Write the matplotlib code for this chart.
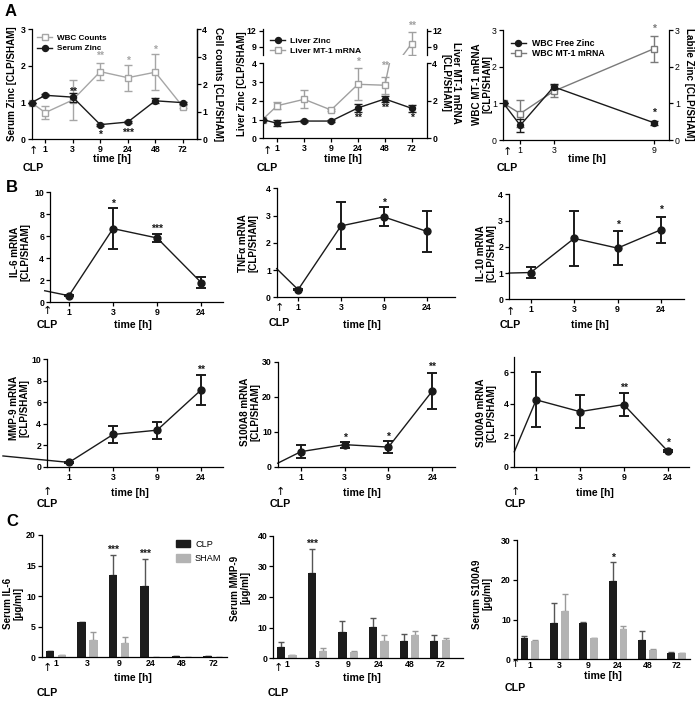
import matplotlib
matplotlib.use('Agg')
import matplotlib.pyplot as plt
from matplotlib.lines import Line2D
from matplotlib.patches import Patch

plt.rcParams['font.family'] = ['Liberation Sans', 'DejaVu Sans']
plt.rcParams['font.weight'] = 'bold'
plt.rcParams['axes.linewidth'] = 0.9

# ---------------- data ----------------
# Panel A1 (serum zinc / WBC counts)
a1_times = ['1', '3', '9', '24', '48', '72']
a1_zinc = [1.2, 1.15, 0.4, 0.47, 1.05, 1.0]
a1_zinc_err = [0.03, 0.12, 0.03, 0.03, 0.07, 0.03]
a1_wbc = [0.97, 1.43, 2.46, 2.24, 2.44, 1.19]
a1_wbc_err = [0.23, 0.72, 0.32, 0.47, 0.65, 0.05]
a1_start = 1.0
a1_wbc_start = 1.33

# Panel A2 (liver zinc / liver MT-1 mRNA)
a2_times = ['1', '3', '9', '24', '48', '72']
a2_zinc = [0.8, 0.92, 0.92, 1.62, 2.1, 1.6]
a2_zinc_err = [0.15, 0.03, 0.03, 0.22, 0.18, 0.18]
a2_mt1 = [1.74, 2.08, 1.51, 2.88, 2.83, 9.6]
a2_mt1_err = [0.2, 0.47, 0.05, 0.85, 0.46, 2.1]
a2_start = 1.0

# Panel A3 (WBC free zinc / WBC MT-1 mRNA), linear time axis
a3_times = [1, 3, 9]
a3_free = [0.4, 1.45, 0.47]
a3_free_err = [0.18, 0.07, 0.06]
a3_mt1 = [0.72, 1.33, 2.49]
a3_mt1_err = [0.36, 0.17, 0.35]
a3_start = 1.0

# Panel B (mRNA ratios)
b_times = ['1', '3', '9', '24']
b_il6 = [0.6, 6.7, 5.85, 1.8]
b_il6_err = [0.05, 1.85, 0.35, 0.5]
b_tnf = [0.28, 2.62, 2.95, 2.42]
b_tnf_err = [0.03, 0.86, 0.35, 0.75]
b_il10 = [1.02, 2.32, 1.95, 2.65]
b_il10_err = [0.22, 1.05, 0.65, 0.5]
b_mmp9 = [0.4, 3.0, 3.4, 7.15]
b_mmp9_err = [0.05, 0.82, 0.78, 1.42]
b_s100a8 = [4.3, 6.3, 5.6, 21.6]
b_s100a8_err = [1.9, 0.9, 1.7, 5.2]
b_s100a9 = [4.25, 3.5, 3.95, 1.0]
b_s100a9_err = [1.75, 1.03, 0.72, 0.05]
b_start = [1.05, 1.05, 1.0, 1.0, 1.0, 0.95]

# Panel C (serum levels, CLP vs SHAM)
c_times = ['1', '3', '9', '24', '48', '72']
c_il6_clp = [0.95, 5.7, 13.4, 11.6, 0.2, 0.15]
c_il6_clp_err = [0.05, 0.1, 3.4, 4.5, 0.05, 0.05]
c_il6_sham = [0.3, 2.9, 2.3, 0.0, 0.0, 0.0]
c_il6_sham_err = [0.05, 1.2, 1.0, 0.0, 0.0, 0.0]
c_mmp9_clp = [3.7, 27.8, 8.5, 10.3, 5.7, 5.7]
c_mmp9_clp_err = [1.6, 7.7, 3.8, 3.0, 2.3, 1.9]
c_mmp9_sham = [1.0, 2.3, 2.1, 5.7, 7.6, 6.0]
c_mmp9_sham_err = [0.1, 0.9, 0.2, 1.9, 1.2, 0.5]
c_s100_clp = [5.4, 9.1, 9.2, 19.7, 4.9, 1.6]
c_s100_clp_err = [0.5, 5.0, 0.2, 4.7, 2.1, 0.2]
c_s100_sham = [4.7, 12.2, 5.3, 7.7, 2.3, 1.5]
c_s100_sham_err = [0.2, 4.1, 0.1, 0.7, 0.3, 0.1]

# ---------------- helpers ----------------
W, H = 696, 703
fig = plt.figure(figsize=(W / 100, H / 100), dpi=100)

BLACK = '#1a1a1a'
GRAY_A1 = '#a6a6a6'
GRAY_A2 = '#a0a0a0'
GRAY_A3 = '#7a7a7a'
TICK_FS = 6.3
LAB_FS = 7.1


def box(l, t, r, b):
    return fig.add_axes([l / W, 1 - b / H, (r - l) / W, (b - t) / H])


def ftext(x, y, s, **kw):
    kw.setdefault('ha', 'center')
    kw.setdefault('va', 'center')
    fig.text(x / W, 1 - y / H, s, **kw)


def style(ax, right=False):
    ax.spines['top'].set_visible(False)
    ax.spines['right'].set_visible(right)
    ax.tick_params(direction='out', length=3, width=0.9, labelsize=TICK_FS, pad=1.2)
    for lbl in ax.get_xticklabels() + ax.get_yticklabels():
        lbl.set_fontweight('bold')


def ylab(x, y, s, rot=90, fs=LAB_FS):
    ftext(x, y, s, rotation=rot, fontsize=fs, fontweight='bold', linespacing=1.1)


def xlab(x, y, s='time [h]'):
    ftext(x, y, s, fontsize=LAB_FS + 0.5, fontweight='bold')


def clp(x, ya, yc):
    ftext(x, ya, '\u2191', fontsize=8, fontweight='normal', family=['DejaVu Sans'])
    ftext(x, yc, 'CLP', fontsize=LAB_FS + 0.6, fontweight='bold')


def star(ax, x, y, s, color=BLACK, fs=7.5):
    ax.text(x, y, s, ha='center', va='center', fontsize=fs, color=color,
            fontweight='bold', clip_on=False)


# ================= Panel A1 =================
ax = box(31.5, 29.3, 196.5, 139.3)
pos = list(range(1, 7))
ax2 = ax.twinx()
ax2.errorbar([0.5] + pos, [a1_wbc_start] + a1_wbc, yerr=[0] + a1_wbc_err, color=GRAY_A1,
             marker='s', ms=5, mfc='white', mec=GRAY_A1, mew=1.0, lw=1.0,
             capsize=3, elinewidth=1.0, capthick=1.0, clip_on=False, zorder=2)
ax2.set_ylim(0, 4)
ax2.set_yticks([0, 1, 2, 3, 4])
ax.set_zorder(ax2.get_zorder() + 1)
ax.patch.set_visible(False)
ax.errorbar([0.5] + pos, [a1_start] + a1_zinc, yerr=[0] + a1_zinc_err, color=BLACK,
            marker='o', ms=4.3, lw=1.0, capsize=3, elinewidth=1.0, capthick=1.0,
            clip_on=False, zorder=3)
ax.set_xlim(0.5, 6.5)
ax.set_ylim(0, 3)
ax.set_yticks([0, 1, 2, 3])
ax.set_xticks(pos)
ax.set_xticklabels(a1_times)
style(ax, right=True)
style(ax2, right=True)
ax2.spines['left'].set_visible(False)
ax2.spines['bottom'].set_visible(False)
star(ax, 2, 1.3, '**')
star(ax, 3, 0.13, '*')
star(ax, 4, 0.18, '***')
star(ax2, 3, 3.02, '**', GRAY_A1)
star(ax2, 4, 2.85, '*', GRAY_A1)
star(ax2, 5, 3.25, '*', GRAY_A1)
h1 = Line2D([], [], color=GRAY_A1, marker='s', ms=5, mfc='white', mec=GRAY_A1, lw=1.0)
h2 = Line2D([], [], color=BLACK, marker='o', ms=4.3, lw=1.0)
leg = ax.legend([h1, h2], ['WBC Counts', 'Serum Zinc'], loc='upper left',
                bbox_to_anchor=(-0.01, 1.02), frameon=False, fontsize=5.9,
                handlelength=1.8, handletextpad=0.6, labelspacing=0.3)
for t in leg.get_texts():
    t.set_fontweight('bold')
ylab(12, 84, 'Serum Zinc [CLP/SHAM]')
ylab(218, 84, 'Cell counts [CLP/SHAM]', rot=270)
xlab(112, 159)
clp(33, 151, 168)
ftext(11, 12, 'A', fontsize=12, fontweight='bold')

# ================= Panel A2 (broken axis) =================
lo = box(262.5, 63.3, 426.5, 138.3)
up = box(262.5, 28.6, 426.5, 54.7)
xs = [0.45] + pos
for a in (lo, up):
    a.errorbar(xs, [a2_start] + a2_mt1, yerr=[0] + a2_mt1_err, color=GRAY_A2,
               marker='s', ms=5, mfc='white', mec=GRAY_A2, mew=1.0, lw=1.0,
               capsize=3, elinewidth=1.0, capthick=1.0, zorder=2)
    a.errorbar(xs, [a2_start] + a2_zinc, yerr=[0] + a2_zinc_err, color=BLACK,
               marker='o', ms=4.3, lw=1.0, capsize=3, elinewidth=1.0, capthick=1.0,
               zorder=3)
    a.set_xlim(0.45, 6.55)
lo.set_ylim(0, 4)
lo.set_yticks([0, 1, 2, 3, 4])
lo.set_xticks(pos)
lo.set_xticklabels(a2_times)
up.set_ylim(7.5, 12.4)
up.set_yticks([9, 12])
up.set_xticks([])
style(lo, right=True)
style(up, right=True)
up.spines['bottom'].set_visible(False)
lo.spines['top'].set_visible(False)
for a, tks in ((lo, [0, 2, 4]), (up, [9, 12])):
    r = a.twinx()
    r.set_ylim(a.get_ylim())
    r.set_yticks(tks)
    style(r, right=True)
    r.spines['left'].set_visible(False)
    r.spines['bottom'].set_visible(False)
    r.spines['top'].set_visible(False)
    a.spines['right'].set_visible(False)
star(lo, 4, 1.07, '**')
star(lo, 5, 1.6, '**')
star(lo, 6, 1.07, '*')
star(lo, 4, 4.1, '*', GRAY_A2)
star(lo, 5, 3.85, '**', GRAY_A2)
star(up, 6, 13.0, '**', GRAY_A2)
h1 = Line2D([], [], color=BLACK, marker='o', ms=4.3, lw=1.0)
h2 = Line2D([], [], color=GRAY_A2, marker='s', ms=5, mfc='white', mec=GRAY_A2, lw=1.0)
leg = up.legend([h1, h2], ['Liver Zinc', 'Liver MT-1 mRNA'], loc='upper left',
                bbox_to_anchor=(0.0, 0.97), frameon=False, fontsize=6.1,
                handlelength=1.8, handletextpad=0.6, labelspacing=0.25)
for t in leg.get_texts():
    t.set_fontweight('bold')
ylab(242, 84, 'Liver Zinc [CLP/SHAM]', fs=6.9)
ylab(451, 83, 'Liver MT-1 mRNA\n[CLP/SHAM]', rot=270)
xlab(343, 159)
clp(267, 151, 168)

# ================= Panel A3 =================
ax = box(502.7, 30, 669, 140)
ax.errorbar([0] + a3_times, [a3_start] + a3_mt1, yerr=[0] + a3_mt1_err, color=GRAY_A3,
            marker='s', ms=5, mfc='white', mec=GRAY_A3, mew=1.0, lw=1.0,
            capsize=3, elinewidth=1.0, capthick=1.0, zorder=2)
ax.errorbar([0] + a3_times, [a3_start] + a3_free, yerr=[0] + a3_free_err, color=BLACK,
            marker='o', ms=4.3, lw=1.0, capsize=3, elinewidth=1.0, capthick=1.0,
            zorder=3)
ax.set_xlim(-0.05, 9.9)
ax.set_ylim(0, 3)
ax.set_yticks([0, 1, 2, 3])
ax.set_xticks(a3_times)
style(ax, right=False)
for lbl in ax.get_xticklabels() + ax.get_yticklabels():
    lbl.set_fontweight('normal')
r = ax.twinx()
r.set_ylim(0, 3)
r.set_yticks([0, 1, 2, 3])
style(r, right=True)
for lbl in r.get_yticklabels():
    lbl.set_fontweight('normal')
r.spines['left'].set_visible(False)
r.spines['bottom'].set_visible(False)
star(ax, 9, 3.03, '*', GRAY_A3)
star(ax, 9, 0.73, '*')
h1 = Line2D([], [], color=BLACK, marker='o', ms=4.3, lw=1.0)
h2 = Line2D([], [], color=GRAY_A3, marker='s', ms=5, mfc='white', mec=GRAY_A3, lw=1.0)
ax.legend([h1, h2], ['WBC Free Zinc', 'WBC MT-1 mRNA'], loc='upper left',
          bbox_to_anchor=(0.0, 0.99), frameon=False, fontsize=6.3,
          handlelength=1.8, handletextpad=0.6, labelspacing=0.15)
ylab(482, 84, 'WBC MT-1 mRNA\n[CLP/SHAM]')
ylab(689, 84, 'Labile Zinc [CLP/SHAM]', rot=270)
xlab(587, 159)
clp(507, 152, 168)

# ================= Panel B =================
b_panels = [
    ((50, 192.3, 222.7, 302.3), (0.57, 4.49), (0, 10), [0, 2, 4, 6, 8, 10], b_il6, b_il6_err,
     'IL-6 mRNA\n[CLP/SHAM]', (20, 252), (133, 325), (47, 311, 325),
     [(2, 8.95, '*'), (3, 6.7, '***')], 0.45),
    ((276.7, 188.3, 455, 297.3), (0.5, 4.66), (0, 4), [0, 1, 2, 3, 4], b_tnf, b_tnf_err,
     'TNF\u03b1 mRNA\n[CLP/SHAM]', (248, 243), (362, 325), (279, 308, 323),
     [(3, 3.48, '*')], 0.5),
    ((509, 194.3, 684, 299.3), (0.5, 4.53), (0, 4), [0, 1, 2, 3, 4], b_il10, b_il10_err,
     'IL-10 mRNA\n[CLP/SHAM]', (486, 253), (590, 325), (510, 312, 325),
     [(3, 2.85, '*'), (4, 3.4, '*')], 0.5),
    ((47, 359.3, 222.7, 466.7), (0.5, 4.49), (0, 10), [0, 2, 4, 6, 8, 10], b_mmp9, b_mmp9_err,
     'MMP-9 mRNA\n[CLP/SHAM]', (19, 408), (130, 493), (47, 492, 504),
     [(4, 9.0, '**')], -0.5),
    ((277.7, 361.7, 455, 466.7), (0.47, 4.52), (0, 30), [0, 10, 20, 30], b_s100a8, b_s100a8_err,
     'S100A8 mRNA\n[CLP/SHAM]', (250, 412), (362, 493), (280, 492, 504),
     [(2, 8.3, '*'), (3, 8.6, '*'), (4, 28.5, '**')], 0.47),
    ((514.3, 356.6, 689, 466.7), (0.5, 4.49), (0, 7), [0, 2, 4, 6], b_s100a9, b_s100a9_err,
     'S100A9 mRNA\n[CLP/SHAM]', (486, 413), (595, 493), (515, 492, 504),
     [(3, 5.0, '**'), (4, 1.5, '*')], 0.5),
]
for i, (bx, xl, yl, yt, vals, errs, lab, lpos, tpos, cpos, stars, x0) in enumerate(b_panels):
    ax = box(*bx)
    bp = [1, 2, 3, 4]
    ax.plot([x0, 1], [b_start[i], vals[0]], color=BLACK, lw=1.0, clip_on=False)
    ax.errorbar(bp, vals, yerr=errs, color=BLACK, marker='o', ms=5, lw=1.0,
                capsize=3.5, elinewidth=1.4, capthick=1.4, clip_on=False, zorder=3)
    ax.set_xlim(*xl)
    ax.set_ylim(*yl)
    ax.set_yticks(yt)
    ax.set_xticks(bp)
    ax.set_xticklabels(b_times)
    style(ax)
    for (sx, sy, ss) in stars:
        star(ax, sx, sy, ss)
    ylab(lpos[0], lpos[1], lab)
    xlab(*tpos)
    clp(*cpos)
ftext(12, 187, 'B', fontsize=12, fontweight='bold')

# ================= Panel C =================
c_panels = [
    ((41.7, 535, 226.7, 657.3), (0.546, 6.42), (0, 20), [0, 5, 10, 15, 20],
     c_il6_clp, c_il6_clp_err, c_il6_sham, c_il6_sham_err,
     'Serum IL-6\n[\u03bcg/ml]', (13, 603), (133, 678), (47, 668, 693),
     [(3, 17.6, '***'), (4, 16.9, '***')]),
    ((273.3, 535.7, 463, 658.3), (0.56, 6.75), (0, 40), [0, 10, 20, 30, 40],
     c_mmp9_clp, c_mmp9_clp_err, c_mmp9_sham, c_mmp9_sham_err,
     'Serum MMP-9\n[\u03bcg/ml]', (240, 588), (362, 678), (278, 668, 693),
     [(2, 37.3, '***')]),
    ((516.7, 540, 690, 659.3), (0.55, 6.45), (0, 30), [0, 10, 20, 30],
     c_s100_clp, c_s100_clp_err, c_s100_sham, c_s100_sham_err,
     'Serum S100A9\n[\u03bcg/ml]', (482, 594), (603, 676), (515, 664, 688),
     [(4, 25.6, '*')]),
]
CLP_C = '#1c1c1c'
SHAM_C = '#b3b3b3'
for i, (bx, xl, yl, yt, v1, e1, v2, e2, lab, lpos, tpos, cpos, stars) in enumerate(c_panels):
    ax = box(*bx)
    cp = [1, 2, 3, 4, 5, 6]
    x1 = [p - 0.185 for p in cp]
    x2 = [p + 0.185 for p in cp]
    ax.bar(x1, v1, width=0.27, color=CLP_C, zorder=2)
    ax.bar(x2, v2, width=0.27, color=SHAM_C, zorder=2)
    ax.errorbar(x1, v1, yerr=[[0] * 6, e1], fmt='none', ecolor='#555555', elinewidth=1.0,
                capsize=2.2, capthick=1.0, zorder=1)
    ax.errorbar(x2, v2, yerr=[[0] * 6, e2], fmt='none', ecolor='#9a9a9a', elinewidth=1.0,
                capsize=2.2, capthick=1.0, zorder=1)
    ax.set_xlim(*xl)
    ax.set_ylim(*yl)
    ax.set_yticks(yt)
    ax.set_xticks(cp)
    ax.set_xticklabels(c_times)
    style(ax)
    ax.tick_params(axis='x', length=0)
    for (sx, sy, ss) in stars:
        star(ax, sx - 0.185, sy, ss)
    ylab(lpos[0], lpos[1], lab)
    xlab(*tpos)
    clp(*cpos)
    if i == 0:
        leg = ax.legend([Patch(color=CLP_C), Patch(color=SHAM_C)], ['CLP', 'SHAM'],
                        loc='upper left', bbox_to_anchor=(0.68, 1.03), frameon=False,
                        fontsize=6.6, handlelength=1.5, handleheight=0.9,
                        handletextpad=0.6, labelspacing=0.6)
        for t in leg.get_texts():
            t.set_fontweight('normal')
ftext(12, 522, 'C', fontsize=12, fontweight='bold')

fig.savefig('out.png', dpi=100)
